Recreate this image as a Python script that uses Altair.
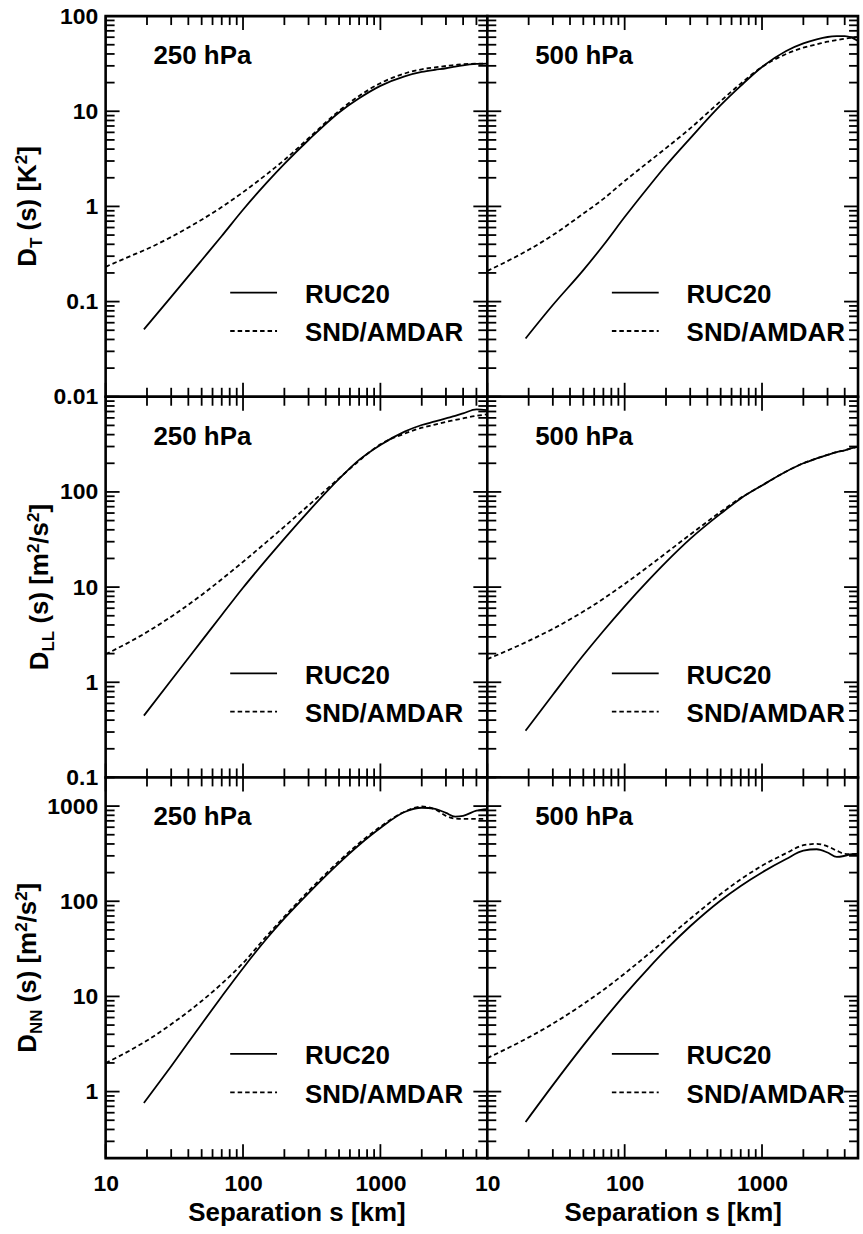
import altair as alt
import pandas as pd

FONT = "Liberation Sans"

# Separation distances (km) at which the curves are tabulated
SEP_RUC_L = [19, 30, 50, 70, 100, 150, 200, 300, 500, 700, 1000, 1500, 2000, 2500, 3000, 3500, 4000, 5000, 6000]
SEP_SND_L = [10, 15, 20, 30, 50, 70, 100, 150, 200, 300, 500, 700, 1000, 1500, 2000, 2500, 3000, 3500, 4000, 5000, 6000]
SEP_RUC_R = [19, 30, 50, 70, 100, 150, 200, 300, 500, 700, 1000, 1500, 2000, 2500, 3000, 3500, 4000, 4500, 5000]
SEP_SND_R = [10, 15, 20, 30, 50, 70, 100, 150, 200, 300, 500, 700, 1000, 1500, 2000, 2500, 3000, 3500, 4000, 4500, 5000]

# Temperature structure function D_T [K^2]
DT_250_RUC = [0.051, 0.112, 0.272, 0.489, 0.923, 1.80, 2.80, 4.99, 9.72, 13.7, 18.5, 23.3, 25.9, 27.3, 28.3, 29.5, 30.4, 31.4, 31.7]
DT_250_SND = [0.232, 0.299, 0.357, 0.477, 0.725, 0.984, 1.41, 2.20, 3.08, 5.20, 10.1, 14.5, 19.7, 24.9, 27.6, 28.9, 29.9, 30.6, 31.2, 31.6, 31.7]
DT_500_RUC = [0.041, 0.092, 0.214, 0.391, 0.773, 1.62, 2.69, 5.20, 11.6, 18.5, 29.2, 43.0, 51.7, 57.0, 60.3, 61.5, 61.7, 59.5, 54.8]
DT_500_SND = [0.21, 0.28, 0.35, 0.50, 0.84, 1.2, 1.85, 2.95, 4.1, 6.6, 12.8, 19.5, 29.2, 40.0, 46.6, 50.5, 53.9, 56.0, 57.9, 59.2, 60.3]

# Longitudinal wind structure function D_LL [m^2/s^2]
DLL_250_RUC = [0.446, 1.05, 2.72, 5.09, 9.84, 19.9, 32.3, 62.5, 137, 217, 312, 430, 505, 550, 593, 630, 668, 737, 725]
DLL_250_SND = [1.97, 2.66, 3.37, 4.89, 8.27, 12.1, 18.4, 30.2, 43.2, 72.3, 139, 213, 316, 410, 473, 510, 545, 570, 593, 630, 653]
DLL_500_RUC = [0.31, 0.74, 1.92, 3.46, 6.28, 11.9, 18.3, 32.1, 59.1, 85.5, 117, 164, 200, 225, 245, 262, 274, 288, 300]
DLL_500_SND = [1.75, 2.25, 2.72, 3.64, 5.54, 7.54, 10.8, 16.6, 22.8, 35.6, 61.9, 86.6, 117, 164, 200, 225, 245, 262, 274, 288, 300]

# Transverse wind structure function D_NN [m^2/s^2]
DNN_250_RUC = [0.76, 1.85, 5.14, 9.98, 19.8, 41.1, 66.0, 122, 252, 390, 588, 866, 960, 935, 847, 775, 790, 895, 930]
DNN_250_SND = [1.99, 2.70, 3.44, 5.10, 8.94, 13.6, 22.4, 43.7, 69.0, 128, 264, 407, 606, 873, 990, 925, 790, 740, 733, 733, 733]
DNN_500_RUC = [0.48, 1.17, 3.06, 5.61, 10.4, 20.0, 31.0, 54.6, 102, 145, 201, 278, 340, 352, 325, 292, 300, 313, 315]
DNN_500_SND = [2.25, 2.99, 3.71, 5.17, 8.31, 11.7, 17.4, 28.1, 39.9, 65.4, 119, 170, 236, 320, 388, 401, 378, 340, 315, 312, 315]

LEVELS = ["250 hPa", "500 hPa"]
SERIES = ["RUC20", "SND/AMDAR"]
X_TITLE = "Separation s [km]"

# y-axis titles as (text, role) pieces: role is main, sub(script) or sup(erscript)
Y_TITLES = [
    [("D", "main"), ("T", "sub"), (" (s) [K", "main"), ("2", "sup"), ("]", "main")],
    [("D", "main"), ("LL", "sub"), (" (s) [m", "main"), ("2", "sup"), ("/s", "main"), ("2", "sup"), ("]", "main")],
    [("D", "main"), ("NN", "sub"), (" (s) [m", "main"), ("2", "sup"), ("/s", "main"), ("2", "sup"), ("]", "main")],
]
Y_DOMAINS = [[0.01, 100], [0.1, 1000], [0.2, 2000]]
Y_LABELS = [[0.01, 0.1, 1, 10, 100], [0.1, 1, 10, 100], [1, 10, 100, 1000]]
X_DOMAINS = [[10, 6000], [10, 5000]]
X_LABELS = [10, 100, 1000]

PANEL_DATA = [
    [(DT_250_RUC, DT_250_SND), (DT_500_RUC, DT_500_SND)],
    [(DLL_250_RUC, DLL_250_SND), (DLL_500_RUC, DLL_500_SND)],
    [(DNN_250_RUC, DNN_250_SND), (DNN_500_RUC, DNN_500_SND)],
]

WIDTHS = [383, 372]
HEIGHT = 382
BIG = 26
SMALL = 17
TICK_FONT = 23
MAJOR, MINOR = 14, 9
TICK_W = 1.8
LINE_W = 1.8
DASH = [4.5, 3]

# Advance widths of Liberation Sans Bold glyphs (per 1000 em)
GLYPH_W = {" ": 278, "(": 333, ")": 333, "[": 333, "]": 333, "/": 278, "s": 556,
           "m": 889, "D": 722, "T": 611, "L": 611, "N": 722, "K": 722, "2": 556}


def text_width(text, size):
    return sum(GLYPH_W[c] for c in text) * size / 1000.0


def log_ticks(lo, hi):
    majors, minors = [], []
    for e in range(-3, 5):
        for k in range(1, 10):
            v = round(k * 10.0 ** e, 6)
            if lo * 0.999 <= v <= hi * 1.001:
                (majors if k == 1 else minors).append(v)
    return majors, minors


def y_title_layer(pieces, x_base):
    total = sum(text_width(t, BIG if r == "main" else SMALL) for t, r in pieces)
    pos = HEIGHT / 2 + total / 2
    rows = []
    for t, r in pieces:
        size = BIG if r == "main" else SMALL
        shift = {"main": 0, "sub": 6, "sup": -9}[r]
        lead = len(t) - len(t.lstrip(" "))
        pos -= text_width(" " * lead, size)
        body = t.lstrip(" ")
        rows.append({"t": body, "px": x_base + shift, "py": pos, "fs": size})
        pos -= text_width(body, size)
    return alt.Chart(pd.DataFrame(rows)).mark_text(
        angle=270, align="left", baseline="alphabetic", font=FONT,
        fontWeight="bold", color="black"
    ).encode(
        x=alt.X("px:Q", scale=None),
        y=alt.Y("py:Q", scale=None),
        text="t:N",
        size=alt.Size("fs:Q", scale=None),
    )


def panel(row, col):
    W = WIDTHS[col]
    H = HEIGHT
    sep_ruc = SEP_RUC_L if col == 0 else SEP_RUC_R
    sep_snd = SEP_SND_L if col == 0 else SEP_SND_R
    ruc, snd = PANEL_DATA[row][col]
    df_ruc = pd.DataFrame({"sep": sep_ruc, "val": ruc})
    df_snd = pd.DataFrame({"sep": sep_snd, "val": snd})

    xs = alt.Scale(type="log", domain=X_DOMAINS[col], nice=False)
    ys = alt.Scale(type="log", domain=Y_DOMAINS[row], nice=False)
    xmaj, xmin = log_ticks(*X_DOMAINS[col])
    ymaj, ymin = log_ticks(*Y_DOMAINS[row])

    layers = []

    # tick labels (left column / bottom row only)
    x_lab = None
    y_lab = None
    if row == 2:
        x_lab = alt.Axis(orient="bottom", values=X_LABELS, ticks=False, tickSize=0,
                         domain=False, grid=False, labelFont=FONT, labelFontSize=TICK_FONT,
                         labelFontWeight="bold", labelColor="black", labelPadding=15,
                         labelFlush=False, labelOverlap=False,
                         labelExpr="format(datum.value, '~g')",
                         title=X_TITLE, titleFont=FONT, titleFontSize=BIG,
                         titleFontWeight="bold", titleColor="black", titlePadding=4)
    if col == 0:
        y_lab = alt.Axis(orient="left", values=Y_LABELS[row], ticks=False, tickSize=0,
                         domain=False, grid=False, labelFont=FONT, labelFontSize=TICK_FONT,
                         labelFontWeight="bold", labelColor="black", labelPadding=8,
                         labelFlush=False, labelOverlap=False,
                         labelExpr="format(datum.value, '~g')", title=None)
    layers.append(
        alt.Chart(df_ruc).mark_point(opacity=0).encode(
            x=alt.X("sep:Q", scale=xs, axis=x_lab),
            y=alt.Y("val:Q", scale=ys, axis=y_lab),
        )
    )

    # inward-pointing ticks on all four edges, placed through the panel scales
    for vals, ln in ((xmaj, MAJOR), (xmin, MINOR)):
        tdf = pd.DataFrame({"sep": vals})
        for y0, y1 in ((0, ln), (H, H - ln)):
            layers.append(
                alt.Chart(tdf).mark_rule(color="black", strokeWidth=TICK_W).encode(
                    x=alt.X("sep:Q", scale=xs, axis=None),
                    y=alt.value(y0), y2=alt.value(y1))
            )
    for vals, ln in ((ymaj, MAJOR), (ymin, MINOR)):
        tdf = pd.DataFrame({"val": vals})
        for x0, x1 in ((0, ln), (W, W - ln)):
            layers.append(
                alt.Chart(tdf).mark_rule(color="black", strokeWidth=TICK_W).encode(
                    y=alt.Y("val:Q", scale=ys, axis=None),
                    x=alt.value(x0), x2=alt.value(x1))
            )

    solid = alt.Chart(df_ruc).mark_line(
        color="black", strokeWidth=LINE_W, interpolate="monotone", clip=True
    ).encode(x=alt.X("sep:Q", scale=xs, axis=None), y=alt.Y("val:Q", scale=ys, axis=None))
    dashed = alt.Chart(df_snd).mark_line(
        color="black", strokeWidth=LINE_W, strokeDash=DASH, interpolate="monotone", clip=True
    ).encode(x=alt.X("sep:Q", scale=xs, axis=None), y=alt.Y("val:Q", scale=ys, axis=None))
    layers += [solid, dashed]

    one = pd.DataFrame({"k": [0]})
    level = alt.Chart(one).mark_text(
        align="left", baseline="alphabetic", font=FONT, fontSize=BIG,
        fontWeight="bold", color="black", text=LEVELS[col]
    ).encode(x=alt.value(48), y=alt.value(48))
    layers.append(level)

    for i, name in enumerate(SERIES):
        ly = 277.5 if i == 0 else 316
        rule_kw = {"strokeDash": DASH} if i == 1 else {}
        layers.append(
            alt.Chart(one).mark_rule(color="black", strokeWidth=LINE_W, **rule_kw)
            .encode(x=alt.value(125), x2=alt.value(172), y=alt.value(ly))
        )
        layers.append(
            alt.Chart(one).mark_text(
                align="left", baseline="alphabetic", font=FONT, fontSize=BIG,
                fontWeight="bold", color="black", text=name
            ).encode(x=alt.value(200), y=alt.value(ly + 10.5))
        )

    if col == 0:
        layers.append(y_title_layer(Y_TITLES[row], -70 if row != 1 else -58))

    return alt.layer(*layers).resolve_axis(x="independent", y="independent").properties(
        width=W, height=H
    )


panels = [panel(r, c) for r in range(3) for c in range(2)]

chart = alt.concat(*panels, columns=2, spacing=0, bounds="flush").properties(
    padding={"left": 11, "top": 1, "right": 0, "bottom": 0},
    background="white",
).configure_view(stroke="black", strokeWidth=2.6, fill="white")

chart.save("out.html", embed_options={"renderer": "svg", "actions": False})
